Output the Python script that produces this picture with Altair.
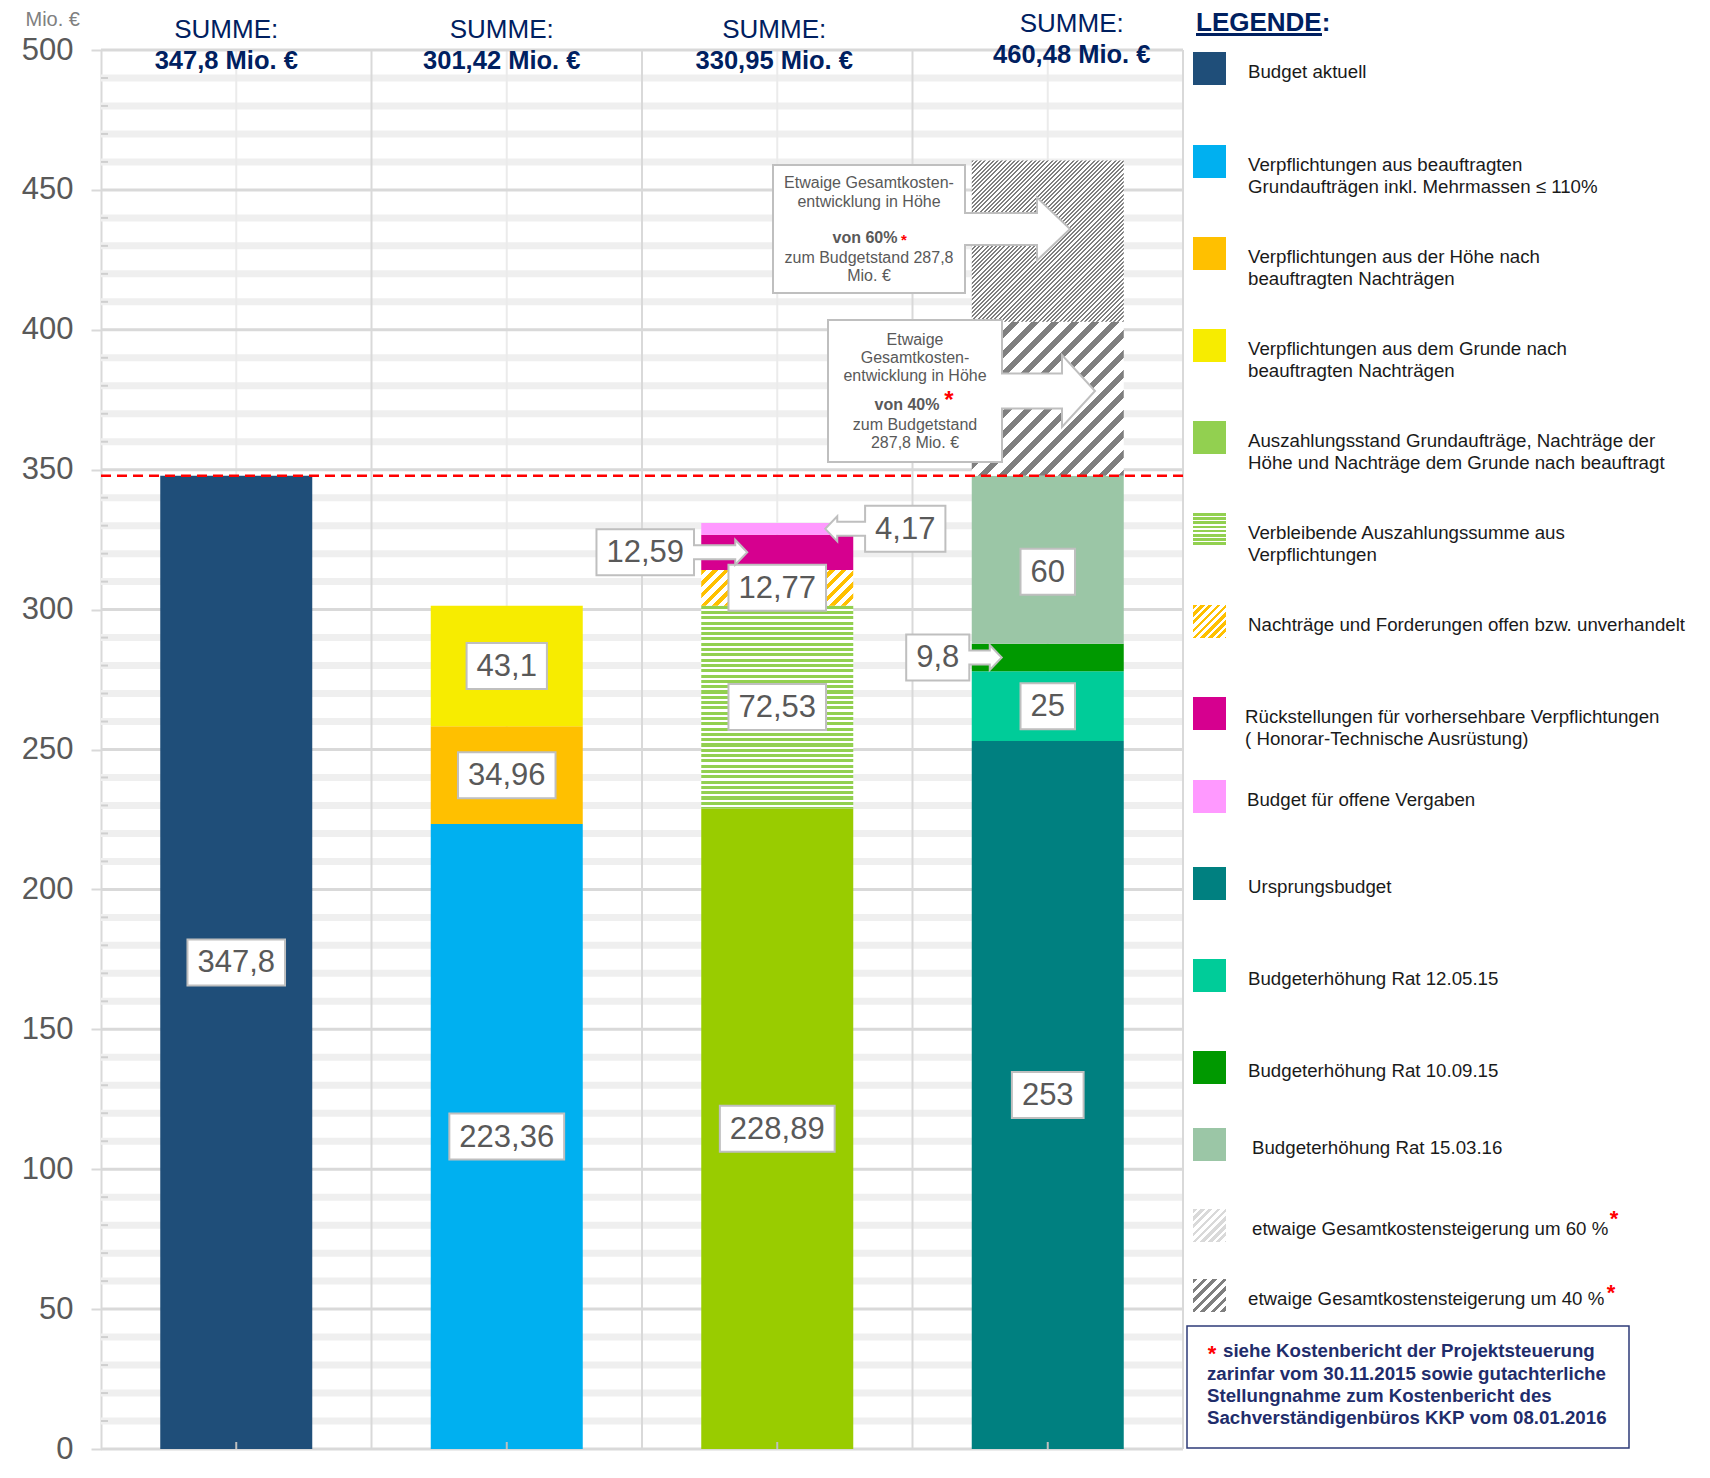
import altair as alt
import pandas as pd

# ---------------- values ----------------
bar1_names = ["Budget aktuell"]
bar1_values = [347.8]

bar2_names = ["Grundaufträge", "Nachträge Höhe", "Nachträge Grunde"]
bar2_values = [223.36, 34.96, 43.1]

bar3_names = ["Auszahlungsstand", "Verbleibend", "Offen", "Rückstellungen", "Offene Vergaben"]
bar3_values = [228.89, 72.53, 12.77, 12.59, 4.17]

bar4_names = ["Ursprungsbudget", "Rat 12.05.15", "Rat 10.09.15", "Rat 15.03.16", "Steigerung 40", "Steigerung 60"]
bar4_values = [253, 25, 9.8, 60, 55.12, 57.56]

summe_texts = ["347,8 Mio. €", "301,42 Mio. €", "330,95 Mio. €", "460,48 Mio. €"]
unlabelled = ["Steigerung 40", "Steigerung 60"]

y_ticks = [0, 50, 100, 150, 200, 250, 300, 350, 400, 450, 500]
minor_ticks = [v for v in range(10, 500, 10) if v % 50]

legend_keys = ["Budget aktuell", "Grundaufträge", "Nachträge Höhe", "Nachträge Grunde",
               "Auszahlungsstand", "Verbleibend", "Offen", "Rückstellungen", "Offene Vergaben",
               "Ursprungsbudget", "Rat 12.05.15", "Rat 10.09.15", "Rat 15.03.16",
               "Steigerung 60", "Steigerung 40"]
legend_labels = [
    ["Budget aktuell"],
    ["Verpflichtungen aus beauftragten", "Grundaufträgen inkl. Mehrmassen ≤ 110%"],
    ["Verpflichtungen aus der Höhe nach", "beauftragten Nachträgen"],
    ["Verpflichtungen aus dem Grunde nach", "beauftragten Nachträgen"],
    ["Auszahlungsstand Grundaufträge, Nachträge der", "Höhe und Nachträge dem Grunde nach beauftragt"],
    ["Verbleibende Auszahlungssumme aus", "Verpflichtungen"],
    ["Nachträge und Forderungen offen bzw. unverhandelt"],
    ["Rückstellungen für vorhersehbare Verpflichtungen", "( Honorar-Technische Ausrüstung)"],
    ["Budget für offene Vergaben"],
    ["Ursprungsbudget"],
    ["Budgeterhöhung Rat 12.05.15"],
    ["Budgeterhöhung Rat 10.09.15"],
    ["Budgeterhöhung Rat 15.03.16"],
    ["etwaige Gesamtkostensteigerung um 60 %"],
    ["etwaige Gesamtkostensteigerung um 40 %"],
]
footnote_lines = ["siehe Kostenbericht der Projektsteuerung",
                  "zarinfar vom 30.11.2015 sowie gutachterliche",
                  "Stellungnahme zum Kostenbericht des",
                  "Sachverständigenbüros KKP vom 08.01.2016"]
callout60_lines = ["Etwaige Gesamtkosten-", "entwicklung in Höhe", "zum Budgetstand 287,8", "Mio. €"]
callout40_lines = ["Etwaige", "Gesamtkosten-", "entwicklung in Höhe", "zum Budgetstand", "287,8 Mio. €"]

# ---------------- styles ----------------
SOLID = {
    "Budget aktuell": "#1F4E79", "Grundaufträge": "#00B0F0", "Nachträge Höhe": "#FFC000",
    "Nachträge Grunde": "#F7EC00", "Auszahlungsstand": "#99CC00", "Rückstellungen": "#D6008F",
    "Offene Vergaben": "#FF99FF", "Ursprungsbudget": "#008080", "Rat 12.05.15": "#00CC99",
    "Rat 10.09.15": "#009900", "Rat 15.03.16": "#9BC6A6",
}
LEGEND_SOLID = dict(SOLID, **{"Auszahlungsstand": "#92D050"})
HATCH = {
    "Verbleibend": ("h", "#92D050", 5.3, 0.58),
    "Offen": ("d", "#FFC000", 11.7, 0.45),
    "Steigerung 40": ("d", "#7F7F7F", 20.0, 0.42),
    "Steigerung 60": ("d", "#7F7F7F", 4.2, 0.45),
}
LEGEND_HATCH = {
    "Verbleibend": ("h", "#92D050", 4.2, 0.6),
    "Offen": ("d", "#FFC000", 8.0, 0.5),
    "Steigerung 60": ("d", "#D9D9D9", 8.0, 0.5),
    "Steigerung 40": ("d", "#7F7F7F", 10.0, 0.45),
}
FONT = "Liberation Sans"
NAVY = "#002060"
GREY_TXT = "#595959"

# ---------------- layout ----------------
PAD_L, PAD_T, PAD_R, PAD_B = 93, 42, 515, 17
PL, PT, W, H = 8 + PAD_L, 8 + PAD_T, 1082, 1399
BAR_HALF_PX = 76
LABEL_FS = 31
LABEL_NUDGE_PX = {"Rat 15.03.16": 12}


def page_x(px):
    return (px - PL) * 4.0 / W


def page_y(py):
    return (PT + H - py) * 500.0 / H


def ux(d):
    return d * 4.0 / W


def uy(d):
    return d * 500.0 / H


def de(v):
    s = f"{v:.2f}".rstrip("0").rstrip(".")
    return s.replace(".", ",")


def text_w(t, fs):
    return sum(0.278 if c in ",." else 0.556 for c in t) * fs


def stripes(kind, color, period, frac, w, h):
    if kind == "h":
        L = h
        x2, y2 = 0, 1
    else:
        L = w + h
        c = (1 / h + 1 / w) / (1 / h ** 2 + 1 / w ** 2)
        x2, y2 = c / h, c / w
    step = period / L
    on = frac * step
    stops = []
    t = 0.0
    while t < 1:
        a = round(t, 5)
        b = round(min(t + on, 1), 5)
        d = round(min(t + step, 1), 5)
        stops += [(a, color), (b, color), (b, "#FFFFFF"), (d, "#FFFFFF")]
        t += step
    return alt.LinearGradient(gradient="linear", x1=0, y1=0, x2=x2, y2=y2,
                              stops=[alt.GradientStop(offset=o, color=cc) for o, cc in stops])


def callout_path(bx, by, L, s, hl, hh, direction):
    pts = [(-bx, -by), (bx, -by), (bx, -s), (bx + L, -s), (bx + L, -hh), (bx + L + hl, 0),
           (bx + L, hh), (bx + L, s), (bx, s), (bx, by), (-bx, by)]
    if direction == "left":
        pts = [(-x, y) for x, y in pts]
    M = max(max(abs(x), abs(y)) for x, y in pts)
    d = "M" + " L".join(f"{x / M:.4f},{y / M:.4f}" for x, y in pts) + " Z"
    return d, (2 * M) ** 2


XS = alt.Scale(domain=[0, 4], nice=False, zero=False)
YS = alt.Scale(domain=[0, 500], nice=False, zero=False)
YAXIS = alt.Axis(values=y_ticks, labelFontSize=31, labelColor=GREY_TXT, labelFont=FONT,
                 labelPadding=18, tickSize=10, tickColor="#D9D9D9", tickWidth=2,
                 domainColor="#D9D9D9", domainWidth=2, grid=False, labelFlush=False,
                 labelOverlap=False, title="Mio. €", titleAngle=0, titleX=-76, titleY=-31,
                 titleAlign="left", titleBaseline="middle", titleFontSize=20,
                 titleFontWeight="normal", titleColor="#808080", titleFont=FONT)


def ex(f):
    return alt.X(f, type="quantitative", scale=XS, axis=None)


def ey(f):
    return alt.Y(f, type="quantitative", scale=YS, axis=YAXIS)


layers = []

# ---------------- grid ----------------
minor_df = pd.DataFrame({"v": minor_ticks, "x0": 0.0, "x1": 4.0})
layers.append(alt.Chart(minor_df).mark_rule(color="#EFEFEF", strokeWidth=7)
              .encode(x=ex("x0"), x2="x1", y=ey("v")))
tick_df = pd.DataFrame({"v": minor_ticks, "x0": 0.0, "x1": ux(7)})
layers.append(alt.Chart(tick_df).mark_rule(color="#CFCFCF", strokeWidth=2)
              .encode(x=ex("x0"), x2="x1", y=ey("v")))
vc_df = pd.DataFrame({"x": [0.5, 1.5, 2.5, 3.5], "y0": 0.0, "y1": 500.0})
layers.append(alt.Chart(vc_df).mark_rule(color="#EBEBEB", strokeWidth=2)
              .encode(x=ex("x"), y=ey("y0"), y2="y1"))
vb_df = pd.DataFrame({"x": [1.0, 2.0, 3.0, 4.0], "y0": 0.0, "y1": 500.0})
layers.append(alt.Chart(vb_df).mark_rule(color="#D9D9D9", strokeWidth=2)
              .encode(x=ex("x"), y=ey("y0"), y2="y1"))
major_df = pd.DataFrame({"v": y_ticks, "x0": 0.0, "x1": 4.0})
layers.append(alt.Chart(major_df).mark_rule(color="#D9D9D9", strokeWidth=3)
              .encode(x=ex("x0"), x2="x1", y=ey("v")))

# ---------------- bars ----------------
rows = []
for i, (names, vals) in enumerate(zip([bar1_names, bar2_names, bar3_names, bar4_names],
                                      [bar1_values, bar2_values, bar3_values, bar4_values])):
    b = 0.0
    for n, v in zip(names, vals):
        rows.append(dict(bar=i, name=n, value=v, y0=b, y1=b + v, mid=b + v / 2,
                         x0=i + 0.5 - ux(BAR_HALF_PX), x1=i + 0.5 + ux(BAR_HALF_PX),
                         fill=SOLID.get(n, "#FFFFFF")))
        b += v
seg = pd.DataFrame(rows)

solid = seg[seg["name"].isin(list(SOLID))]
layers.append(alt.Chart(solid).mark_rect()
              .encode(x=ex("x0"), x2="x1", y=ey("y0"), y2="y1",
                      color=alt.Color("fill:N", scale=None)))
for n, (kind, col, per, frac) in HATCH.items():
    sub = seg[seg["name"] == n]
    hpx = float(sub["value"].iloc[0]) * H / 500.0
    g = stripes(kind, col, per, frac, 2 * BAR_HALF_PX, hpx)
    layers.append(alt.Chart(sub).mark_rect(fill=g)
                  .encode(x=ex("x0"), x2="x1", y=ey("y0"), y2="y1"))

# reference line at current budget
dash_df = pd.DataFrame({"v": [bar1_values[0]], "x0": 0.0, "x1": 4.0})
layers.append(alt.Chart(dash_df).mark_rule(color="#FF0000", strokeWidth=2.5, strokeDash=[10, 6])
              .encode(x=ex("x0"), x2="x1", y=ey("v")))

# bottom ticks
bt_df = pd.DataFrame({"x": [0.5, 1.5, 2.5, 3.5], "y0": 0.0, "y1": uy(7)})
layers.append(alt.Chart(bt_df).mark_rule(color="#BFBFBF", strokeWidth=2)
              .encode(x=ex("x"), y=ey("y0"), y2="y1"))

# ---------------- value labels ----------------
CALLOUT = {
    "Rückstellungen": dict(dir="right", box_dx=-132, tip_dx=-30),
    "Offene Vergaben": dict(dir="left", box_dx=128, tip_dx=48),
    "Rat 10.09.15": dict(dir="right", box_dx=-110, tip_dx=-46),
}
BOX_HALF_H = 23
plain_rows, shape_rows, text_rows = [], [], []
for r in seg.itertuples():
    if r.name in unlabelled:
        continue
    t = de(r.value)
    bw = text_w(t, LABEL_FS) + 20
    cy = r.mid - uy(LABEL_NUDGE_PX.get(r.name, 0))
    if r.name in CALLOUT:
        c = CALLOUT[r.name]
        cx = r.bar + 0.5 + ux(c["box_dx"])
        if c["dir"] == "right":
            L = c["tip_dx"] - (c["box_dx"] + bw / 2) - 12
        else:
            L = (c["box_dx"] - bw / 2) - c["tip_dx"] - 12
        p, sz = callout_path(bw / 2, BOX_HALF_H, L, 7, 12, 12.5, c["dir"])
        shape_rows.append(dict(x=cx, y=cy, path=p, size=sz))
    else:
        cx = r.bar + 0.5
        plain_rows.append(dict(x0=cx - ux(bw / 2), x1=cx + ux(bw / 2),
                               y0=cy - uy(BOX_HALF_H), y1=cy + uy(BOX_HALF_H)))
    text_rows.append(dict(x=cx, y=cy, text=t))

# big callouts for the cost scenarios
p60, s60 = callout_path(96, 64, 72, 16, 33, 31.5, "right")
p40, s40 = callout_path(87, 71, 60, 17.5, 33, 36, "right")
shape_rows.append(dict(x=page_x(869), y=page_y(229), path=p60, size=s60))
shape_rows.append(dict(x=page_x(915), y=page_y(391), path=p40, size=s40))

layers.append(alt.Chart(pd.DataFrame(plain_rows))
              .mark_rect(fill="#FFFFFF", stroke="#BFBFBF", strokeWidth=2)
              .encode(x=ex("x0"), x2="x1", y=ey("y0"), y2="y1"))
layers.append(alt.Chart(pd.DataFrame(shape_rows))
              .mark_point(filled=True, fill="#FFFFFF", stroke="#BFBFBF", strokeWidth=2,
                          opacity=1, fillOpacity=1, strokeOpacity=1)
              .encode(x=ex("x"), y=ey("y"), shape=alt.Shape("path:N", scale=None),
                      size=alt.Size("size:Q", scale=None)))
layers.append(alt.Chart(pd.DataFrame(text_rows))
              .mark_text(font=FONT, fontSize=LABEL_FS, color=GREY_TXT, baseline="middle",
                         align="center", dy=1)
              .encode(x=ex("x"), y=ey("y"), text="text:N"))


def text_layer(rows_, **kw):
    base_kw = dict(font=FONT, baseline="middle", align="center")
    base_kw.update(kw)
    return (alt.Chart(pd.DataFrame(rows_)).mark_text(**base_kw)
            .encode(x=ex("x"), y=ey("y"), text="text:N"))


# callout texts
c_reg = []
for t, py in zip(callout60_lines, [183, 202, 258, 276]):
    c_reg.append(dict(x=page_x(869), y=page_y(py), text=t))
for t, py in zip(callout40_lines, [340, 358, 376, 425, 443]):
    c_reg.append(dict(x=page_x(915), y=page_y(py), text=t))
layers.append(text_layer(c_reg, fontSize=16, color=GREY_TXT))
c_bold = [dict(x=page_x(865), y=page_y(238), text="von 60%"),
          dict(x=page_x(907), y=page_y(405), text="von 40%")]
layers.append(text_layer(c_bold, fontSize=16, fontWeight="bold", color=GREY_TXT))
layers.append(text_layer([dict(x=page_x(904), y=page_y(240), text="*")],
                         fontSize=15, fontWeight="bold", color="#FF0000"))
layers.append(text_layer([dict(x=page_x(949), y=page_y(401), text="*")],
                         fontSize=24, fontWeight="bold", color="#FF0000"))

# ---------------- SUMME headers ----------------
summe_shift = [-10, -5, -3, 24]
summe_raise = [0, 0, 0, 6]
s1, s2 = [], []
for i, t in enumerate(summe_texts):
    x = i + 0.5 + ux(summe_shift[i])
    s1.append(dict(x=x, y=page_y(30 - summe_raise[i]), text="SUMME:"))
    s2.append(dict(x=x, y=page_y(61 - summe_raise[i]), text=t))
layers.append(text_layer(s1, fontSize=26, color=NAVY))
layers.append(text_layer(s2, fontSize=25.5, fontWeight="bold", color=NAVY))

# ---------------- legend ----------------
legend_top = [52, 145, 237, 329, 421, 513, 605, 697, 780, 867, 959, 1051, 1128, 1209, 1279]
legend_tx = [1248, 1248, 1248, 1248, 1248, 1248, 1248, 1245, 1247, 1248, 1248, 1248, 1252, 1252, 1248]
SW_X0, SW_X1, SW_H = 1193, 1226, 33
LEG_FS = 18.7

layers.append(text_layer([dict(x=page_x(1196), y=page_y(23), text="LEGENDE:")],
                         fontSize=26, fontWeight="bold", color=NAVY, align="left"))
ul_df = pd.DataFrame({"x0": [page_x(1196)], "x1": [page_x(1322)], "y": [page_y(34.5)]})
layers.append(alt.Chart(ul_df).mark_rule(color=NAVY, strokeWidth=3)
              .encode(x=ex("x0"), x2="x1", y=ey("y")))

sw_rows = []
for k, top in zip(legend_keys, legend_top):
    if k in LEGEND_SOLID:
        sw_rows.append(dict(x0=page_x(SW_X0), x1=page_x(SW_X1), y0=page_y(top + SW_H),
                            y1=page_y(top), fill=LEGEND_SOLID[k]))
layers.append(alt.Chart(pd.DataFrame(sw_rows)).mark_rect()
              .encode(x=ex("x0"), x2="x1", y=ey("y0"), y2="y1",
                      color=alt.Color("fill:N", scale=None)))
for k, top in zip(legend_keys, legend_top):
    if k in LEGEND_HATCH:
        kind, col, per, frac = LEGEND_HATCH[k]
        g = stripes(kind, col, per, frac, SW_X1 - SW_X0, SW_H)
        d = pd.DataFrame([dict(x0=page_x(SW_X0), x1=page_x(SW_X1),
                               y0=page_y(top + SW_H), y1=page_y(top))])
        layers.append(alt.Chart(d).mark_rect(fill=g)
                      .encode(x=ex("x0"), x2="x1", y=ey("y0"), y2="y1"))

lt = []
for lines, top, tx in zip(legend_labels, legend_top, legend_tx):
    for j, ln in enumerate(lines):
        lt.append(dict(x=page_x(tx), y=page_y(top + 20 + 22 * j), text=ln))
layers.append(text_layer(lt, fontSize=LEG_FS, color="#1A1A1A", align="left"))
layers.append(text_layer([dict(x=page_x(1614), y=page_y(1219), text="*"),
                          dict(x=page_x(1611), y=page_y(1293), text="*")],
                         fontSize=22, fontWeight="bold", color="#FF0000"))

# footnote box
foot_bottom = PT + H - 1
FOOT_H = 122
foot_top = foot_bottom - FOOT_H
fb = pd.DataFrame([dict(x0=page_x(1187), x1=page_x(1629), y0=page_y(foot_bottom),
                        y1=page_y(foot_top))])
layers.append(alt.Chart(fb).mark_rect(fill="#FFFFFF", stroke="#2E3B78", strokeWidth=1.5)
              .encode(x=ex("x0"), x2="x1", y=ey("y0"), y2="y1"))
fl = []
for j, (ln, off) in enumerate(zip(footnote_lines, [25, 48, 70, 92])):
    fl.append(dict(x=page_x(1223 if j == 0 else 1207), y=page_y(foot_top + off), text=ln))
layers.append(text_layer(fl, fontSize=LEG_FS, fontWeight="bold", color="#1F2D6B", align="left"))
layers.append(text_layer([dict(x=page_x(1212), y=page_y(foot_top + 28), text="*")],
                         fontSize=22, fontWeight="bold", color="#FF0000"))

chart = (alt.layer(*layers)
         .properties(width=W, height=H, autosize=alt.AutoSizeParams(type="none"),
                     padding={"left": PAD_L, "top": PAD_T, "right": PAD_R, "bottom": PAD_B})
         .configure_view(stroke=None))

chart.save("out.html", embed_options={"renderer": "svg", "actions": False})
